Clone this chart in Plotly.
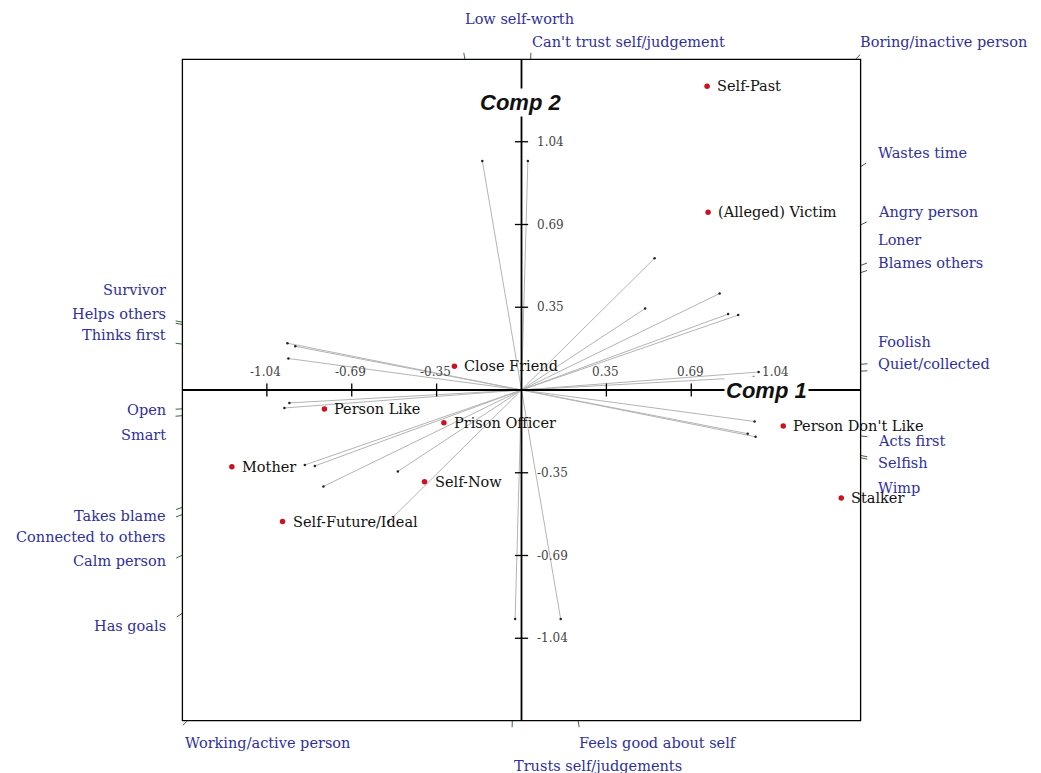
import plotly.graph_objects as go
import math

# ---------------- data ----------------
element_names = ["Self-Past", "(Alleged) Victim", "Close Friend", "Person Like", "Prison Officer",
                 "Mother", "Self-Now", "Self-Future/Ideal", "Person Don't Like", "Stalker"]
element_x = [0.758, 0.762, -0.274, -0.805, -0.317, -1.183, -0.396, -0.976, 1.069, 1.306]
element_y = [1.272, 0.745, 0.100, -0.080, -0.137, -0.322, -0.384, -0.551, -0.151, -0.452]

pole_a = ["Low self-worth", "Can't trust self/judgement", "Boring/inactive person", "Wastes time",
          "Angry person", "Loner", "Blames others", "Wimp", "Selfish", "Acts first",
          "Quiet/collected", "Foolish"]
pole_b = ["Feels good about self", "Trusts self/judgements", "Working/active person", "Has goals",
          "Calm person", "Connected to others", "Takes blame", "Survivor", "Helps others", "Thinks first",
          "Open", "Smart"]
construct_x = [-0.160, 0.026, 0.5435, 0.505, 0.809, 0.844, 0.885, 0.956, 0.924, 0.952, 0.948, 0.9686]
construct_y = [0.959, 0.959, 0.552, 0.341, 0.404, 0.318, 0.314, -0.196, -0.183, -0.132, 0.054, 0.0753]

axis_ticks = [-1.04, -0.69, -0.35, 0.35, 0.69, 1.04]
axis_tick_vals = [-1.04, -0.6933, -0.3467, 0.3467, 0.6933, 1.04]

# ---------------- styling / layout helpers ----------------
B = 1.385          # half-size of the framed box (data units)
R = 1.55           # axis range
label_shift = {     # (xshift, yshift) in pixels for pole labels
    "Wastes time": (15, 14), "Angry person": (15, 13), "Loner": (15, 25), "Blames others": (15, 10),
    "Foolish": (15, 22), "Quiet/collected": (15, 7), "Acts first": (15, -5), "Selfish": (15, -8),
    "Wimp": (15, -30),
    "Survivor": (-14, 32), "Helps others": (-14, 11), "Thinks first": (-14, 9), "Open": (-14, -1),
    "Smart": (-14, -19), "Takes blame": (-14, -9), "Connected to others": (-14, -22),
    "Calm person": (-14, -6), "Has goals": (-14, -13),
    "Low self-worth": (-2, 40), "Can't trust self/judgement": (-1, 17), "Boring/inactive person": (3, 17),
    "Feels good about self": (-1, -22), "Trusts self/judgements": (0, -45),
    "Working/active person": (-5, -22),
}
BLUE = "#30309a"
SERIF = "DejaVu Serif"
LABEL_SIZE = 14.5

fig = go.Figure()

# construct lines (through origin, between the two poles)
lx, ly = [], []
for cx, cy in zip(construct_x, construct_y):
    lx += [cx, -cx, None]
    ly += [cy, -cy, None]
fig.add_trace(go.Scatter(x=lx, y=ly, mode="lines", line=dict(color="#b4b4b4", width=1),
                         hoverinfo="skip", showlegend=False))
fig.add_trace(go.Scatter(x=construct_x + [-v for v in construct_x],
                         y=construct_y + [-v for v in construct_y], mode="markers",
                         marker=dict(color="#222222", size=2.5), hoverinfo="skip", showlegend=False))

# box
fig.add_shape(type="rect", x0=-B, x1=B, y0=-B, y1=B, line=dict(color="black", width=1.3), layer="above")
# axes
fig.add_shape(type="line", x0=-B, x1=B, y0=0, y1=0, line=dict(color="black", width=1.8), layer="above")
fig.add_shape(type="line", x0=0, x1=0, y0=-B, y1=B, line=dict(color="black", width=1.8), layer="above")

# axis ticks
tx, ty = [], []
for v in axis_tick_vals:
    tx += [v, v, None]; ty += [-0.027, 0.027, None]
    tx += [-0.027, 0.027, None]; ty += [v, v, None]
fig.add_trace(go.Scatter(x=tx, y=ty, mode="lines", line=dict(color="black", width=1.3),
                         hoverinfo="skip", showlegend=False))

annotations = []
for v, t in zip(axis_tick_vals, axis_ticks):
    annotations.append(dict(x=v, y=0, text=f"{t:.2f}", showarrow=False, yshift=18, xshift=-1,
                            font=dict(family=SERIF, size=12, color="#444444")))
    annotations.append(dict(x=0, y=v, text=f"{t:.2f}", showarrow=False, xanchor="left", xshift=13,
                            font=dict(family=SERIF, size=12, color="#444444")))

# pole tick stubs and labels
sx, sy = [], []
for cx, cy, a, b in zip(construct_x, construct_y, pole_a, pole_b):
    for dx, dy, name in ((cx, cy, a), (-cx, -cy, b)):
        t = min(B / abs(dx) if dx else 1e9, B / abs(dy) if dy else 1e9)
        bx, by = dx * t, dy * t
        n = math.hypot(dx, dy)
        sx += [bx, bx + 0.028 * dx / n, None]
        sy += [by, by + 0.028 * dy / n, None]
        if abs(abs(bx) - B) < 1e-6 and abs(by) < B - 0.03:
            xanchor = "left" if bx > 0 else "right"
        else:
            xanchor = "left"
        xs, ys = label_shift.get(name, (0, 0))
        annotations.append(dict(x=bx, y=by, text=name, showarrow=False, xanchor=xanchor,
                                yanchor="middle", xshift=xs, yshift=ys,
                                font=dict(family=SERIF, size=LABEL_SIZE, color=BLUE)))
fig.add_trace(go.Scatter(x=sx, y=sy, mode="lines", line=dict(color="#3a6a3a", width=1),
                         hoverinfo="skip", showlegend=False))

# elements
fig.add_trace(go.Scatter(x=element_x, y=element_y, mode="markers",
                         marker=dict(color="#cc1122", size=5.5), hoverinfo="text",
                         text=element_names, showlegend=False))
for ex, ey, name in zip(element_x, element_y, element_names):
    annotations.append(dict(x=ex, y=ey, text=name, showarrow=False, xanchor="left", xshift=8,
                            font=dict(family=SERIF, size=LABEL_SIZE, color="#111111")))

# component titles
annotations.append(dict(x=1.0, y=0, text="<b><i>Comp 1</i></b>", showarrow=False, bgcolor="white",
                        font=dict(family="Liberation Sans", size=22, color="#111111")))
annotations.append(dict(x=-0.005, y=1.205, text="<b><i>Comp 2</i></b>", showarrow=False, bgcolor="white",
                        font=dict(family="Liberation Sans", size=22, color="#111111")))

# page body has an 8px default margin; margins below compensate for it
fig.update_layout(
    width=1041, height=773,
    margin=dict(l=134, r=148, t=12, b=21),
    plot_bgcolor="white", paper_bgcolor="white",
    xaxis=dict(range=[-R, R], visible=False),
    yaxis=dict(range=[-R, R], visible=False),
    annotations=annotations,
    showlegend=False,
)
fig.write_html("out.html")
